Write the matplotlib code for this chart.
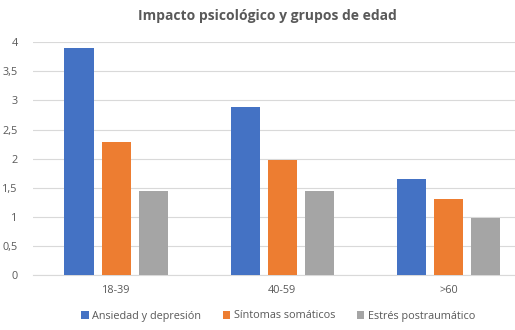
import matplotlib.pyplot as plt
import numpy as np

grupos = ["18-39", "40-59", ">60"]
ansiedad = [3.9, 2.88, 1.65]
somaticos = [2.28, 1.97, 1.3]
estres = [1.45, 1.45, 0.98]
series = ["Ansiedad y depresión", "Síntomas somáticos", "Estrés postraumático"]
colores = ["#4472C4", "#ED7D31", "#A5A5A5"]

plt.rcParams["font.family"] = ["Open Sans", "DejaVu Sans"]

fig = plt.figure(figsize=(5.15, 3.3), dpi=100)
ax = fig.add_axes([33 / 515, 1 - 275 / 330, 482 / 515, (275 - 42.3) / 330])

x = np.arange(len(grupos))
ancho = 0.175
paso = 0.223
for i, (vals, nombre, c) in enumerate(zip([ansiedad, somaticos, estres], series, colores)):
    ax.bar(x + (i - 1) * paso, vals, ancho, color=c, label=nombre, zorder=3)

ax.set_xlim(-0.5, 2.4)
ax.set_ylim(0, 4)
yt = np.arange(0, 4.01, 0.5)
ax.set_yticks(yt)
ax.set_yticklabels([("%g" % v).replace(".", ",") for v in yt])
ax.set_xticks(x)
ax.set_xticklabels(grupos)
ax.grid(axis="y", color="#D9D9D9", linewidth=0.8, zorder=0)
for s in ["top", "right", "left"]:
    ax.spines[s].set_visible(False)
ax.spines["bottom"].set_color("#D9D9D9")
ax.tick_params(axis="both", length=0, labelsize=7.8, colors="#595959")
ax.tick_params(axis="y", pad=11)
ax.tick_params(axis="x", pad=7)

fig.text(0.52, 1 - 16 / 330, "Impacto psicológico y grupos de edad", ha="center", va="center",
         fontsize=10, fontweight="bold", color="#595959")

fig.legend(loc="center", bbox_to_anchor=(0.54, 1 - 316 / 330), ncol=3, frameon=False,
           fontsize=7.8, labelcolor="#595959", handlelength=0.7, handleheight=0.7,
           handletextpad=0.3, columnspacing=2.0)

fig.savefig("out.png", dpi=100)
